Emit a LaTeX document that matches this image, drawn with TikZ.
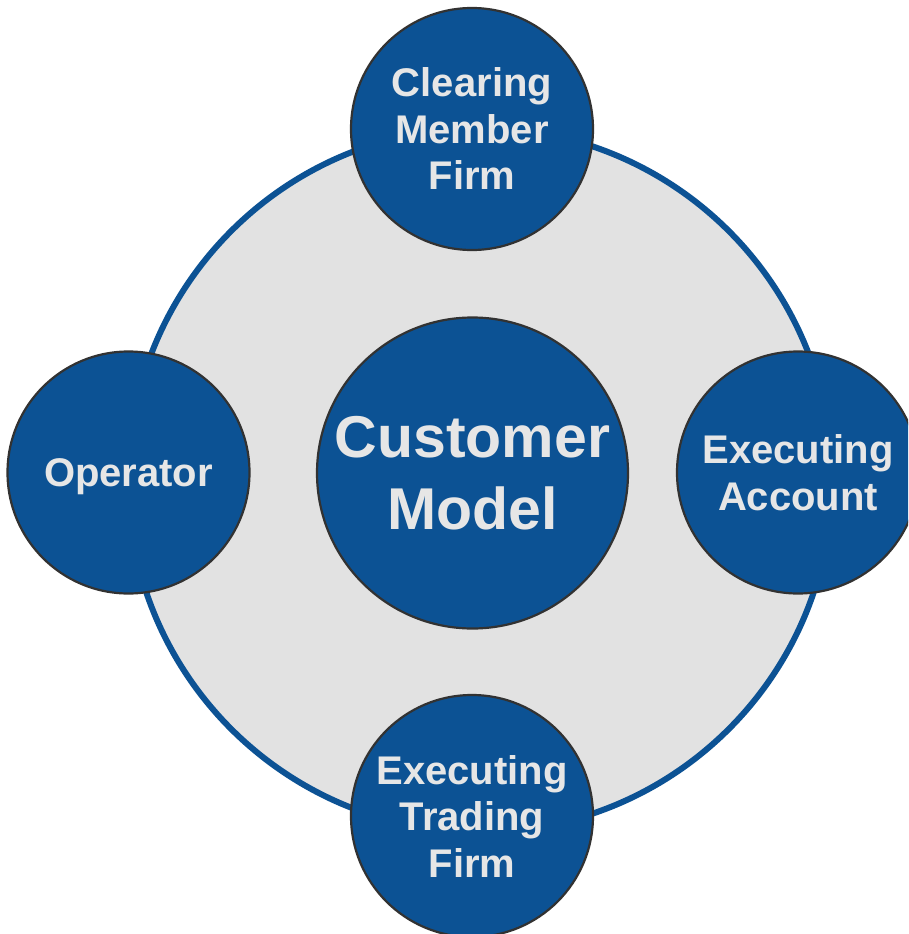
\documentclass[tikz,border=0pt]{standalone}
\usepackage{fontspec}
\setmainfont{Liberation Sans}
\definecolor{cblue}{RGB}{12,82,148}
\definecolor{ctext}{RGB}{230,230,230}
\definecolor{cgray}{RGB}{226,226,226}
\definecolor{cedge}{RGB}{50,50,50}
\begin{document}
\begin{tikzpicture}[x=1pt,y=-1pt,
  ring/.style={circle,fill=cgray,draw=cblue,line width=6pt,inner sep=0pt,minimum size=704pt},
  hub/.style={circle,fill=cblue,draw=cedge,line width=2.2pt,inner sep=0pt,minimum size=311pt,
    text=ctext,align=center,font=\fontsize{59}{72}\selectfont\bfseries},
  sat/.style={circle,fill=cblue,draw=cedge,line width=2.2pt,inner sep=0pt,minimum size=242pt,
    text=ctext,align=center,font=\fontsize{40}{46.5}\selectfont\bfseries}]
\useasboundingbox (0,0) rectangle (908,934);
\clip (0,0) rectangle (908,934);
\fill[white] (0,0) rectangle (908,934);
\node[ring] (ring) at (480,480) {};
\node[hub] (cm) at (472.5,473) {Customer\\Model};
\node[sat] (cmf) at (472,129) {Clearing\\Member\\Firm};
\node[sat,text depth=0pt] (op) at (128.5,472.5) {Operator};
\node[sat] (ea) at (798,472.5) {Executing\\Account};
\node[sat] (etf) at (472,816) {Executing\\Trading\\Firm};
\end{tikzpicture}
\end{document}
